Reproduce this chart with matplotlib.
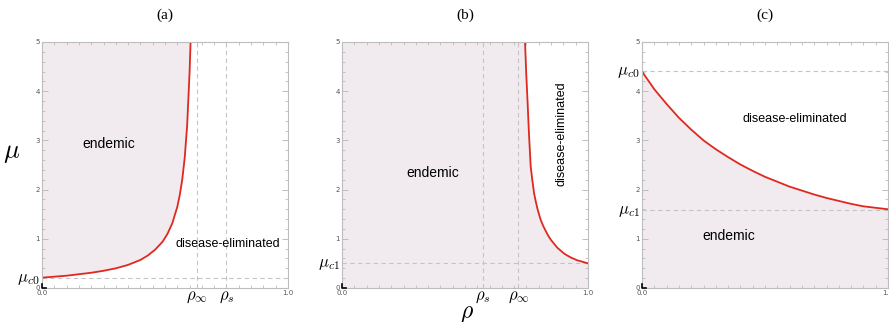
import numpy as np
import matplotlib
matplotlib.use("Agg")
from matplotlib import pyplot as plt
from matplotlib.ticker import MultipleLocator, FixedLocator

plt.rcParams['mathtext.fontset'] = 'cm'

# panel (a): critical curve, endemic region above/left
rho_a = [0.00, 0.05, 0.10, 0.15, 0.20, 0.25, 0.30, 0.35, 0.40, 0.43, 0.46, 0.49,
         0.51, 0.53, 0.55, 0.56, 0.57, 0.58, 0.59, 0.60, 0.604]
mu_a = [0.21, 0.23, 0.25, 0.28, 0.31, 0.35, 0.40, 0.47, 0.57, 0.66, 0.78, 0.94,
        1.10, 1.32, 1.65, 1.89, 2.20, 2.64, 3.30, 4.40, 5.00]

# panel (b)
rho_b = [0.744, 0.749, 0.754, 0.760, 0.767, 0.774, 0.781, 0.788, 0.795, 0.802,
         0.808, 0.818, 0.830, 0.840, 0.849, 0.862, 0.875, 0.889, 0.903, 0.916,
         0.930, 0.944, 0.958, 0.970, 0.980, 0.990, 1.000]
mu_b = [5.00, 4.35, 3.82, 3.14, 2.47, 2.18, 1.92, 1.75, 1.60, 1.48,
        1.38, 1.26, 1.14, 1.05, 0.98, 0.90, 0.82, 0.76, 0.70, 0.66,
        0.62, 0.59, 0.56, 0.545, 0.53, 0.515, 0.50]

# panel (c)
rho_c = [0.00, 0.05, 0.10, 0.15, 0.20, 0.25, 0.30, 0.35, 0.40, 0.45, 0.50,
         0.55, 0.60, 0.65, 0.70, 0.75, 0.80, 0.85, 0.90, 0.95, 1.00]
mu_c = [4.40, 4.04, 3.74, 3.46, 3.22, 3.00, 2.82, 2.66, 2.51, 2.38, 2.26,
        2.16, 2.06, 1.98, 1.90, 1.83, 1.77, 1.71, 1.66, 1.63, 1.60]

rho_inf_a, rho_s_a, mu_c0_a = 0.629, 0.75, 0.21
rho_s_b, rho_inf_b, mu_c1_b = 0.573, 0.717, 0.50
mu_c0_c, mu_c1_c = 4.41, 1.585

fill_col = '#F1EBF0'
red = '#E0281F'
dash_col = '#c4c4c4'
frame_col = '#bdbdbd'

fig = plt.figure(figsize=(8.89, 3.22), dpi=100)
lefts = [42/889, 342/889, 642/889]
axes = [fig.add_axes([l, 34/322, 246/889, 246/322]) for l in lefts]


def style(ax, title):
    ax.set_xlim(0, 1)
    ax.set_ylim(0, 5)
    for s in ax.spines.values():
        s.set_color(frame_col)
        s.set_linewidth(0.8)
    ax.xaxis.set_major_locator(FixedLocator([0.0, 1.0]))
    ax.xaxis.set_minor_locator(MultipleLocator(0.05))
    ax.yaxis.set_major_locator(MultipleLocator(1))
    ax.yaxis.set_minor_locator(MultipleLocator(0.2))
    ax.set_xticklabels(['0.0', '1.0'])
    ax.tick_params(which='both', direction='in', top=True, right=True,
                   color=frame_col, labelsize=5, labelcolor='#555555', pad=1.5)
    ax.tick_params(which='major', length=4, width=0.7)
    ax.tick_params(which='minor', length=2, width=0.6)
    ax.set_title(title, family='Liberation Serif', fontsize=11, pad=17)
    ax.plot([0, 0, 0.015], [0.015, 0, 0], color='black', lw=1.2,
            transform=ax.transAxes, clip_on=False, zorder=5)


def dashed_h(ax, y):
    ax.axhline(y, color=dash_col, lw=0.8, ls=(0, (4, 3)))


def dashed_v(ax, x):
    ax.axvline(x, color=dash_col, lw=0.8, ls=(0, (4, 3)))


lbl_e = dict(family='Liberation Sans', fontsize=10, ha='center', va='center')
lbl_d = dict(family='Liberation Sans', fontsize=9, ha='center', va='center')
rho_y = -0.17

# (a)
ax = axes[0]
style(ax, '(a)')
ax.fill_between(rho_a, mu_a, 5, color=fill_col, lw=0)
dashed_h(ax, mu_c0_a)
dashed_v(ax, rho_inf_a)
dashed_v(ax, rho_s_a)
ax.plot(rho_a, mu_a, color=red, lw=1.3)
ax.text(0.27, 2.93, 'endemic', **lbl_e)
ax.text(0.756, 0.89, 'disease-eliminated', **lbl_d)
ax.text(-0.01, mu_c0_a, r'$\mu_{c0}$', ha='right', va='center', fontsize=12)
ax.text(rho_inf_a, rho_y, r'$\rho_\infty$', ha='center', va='center', fontsize=12)
ax.text(rho_s_a, rho_y, r'$\rho_s$', ha='center', va='center', fontsize=12)
ax.text(-0.125, 2.76, r'$\mu$', ha='center', va='center', fontsize=19)

# (b)
ax = axes[1]
style(ax, '(b)')
ax.fill_between([0.0] + rho_b, 0, [5.0] + mu_b, color=fill_col, lw=0)
dashed_h(ax, mu_c1_b)
dashed_v(ax, rho_s_b)
dashed_v(ax, rho_inf_b)
ax.plot(rho_b, mu_b, color=red, lw=1.3)
ax.text(0.37, 2.33, 'endemic', **lbl_e)
ax.text(0.893, 3.14, 'disease-eliminated', rotation=90, **lbl_d)
ax.text(-0.01, mu_c1_b, r'$\mu_{c1}$', ha='right', va='center', fontsize=12)
ax.text(rho_s_b, rho_y, r'$\rho_s$', ha='center', va='center', fontsize=12)
ax.text(rho_inf_b, rho_y, r'$\rho_\infty$', ha='center', va='center', fontsize=12)
ax.text(0.51, -0.51, r'$\rho$', ha='center', va='center', fontsize=17)

# (c)
ax = axes[2]
style(ax, '(c)')
ax.fill_between(rho_c, 0, mu_c, color=fill_col, lw=0)
dashed_h(ax, mu_c0_c)
dashed_h(ax, mu_c1_c)
ax.plot(rho_c, mu_c, color=red, lw=1.3)
ax.text(0.622, 3.43, 'disease-eliminated', **lbl_d)
ax.text(0.352, 1.06, 'endemic', **lbl_e)
ax.text(-0.01, mu_c0_c, r'$\mu_{c0}$', ha='right', va='center', fontsize=12)
ax.text(-0.01, mu_c1_c, r'$\mu_{c1}$', ha='right', va='center', fontsize=12)

fig.savefig('out.png', dpi=100)
